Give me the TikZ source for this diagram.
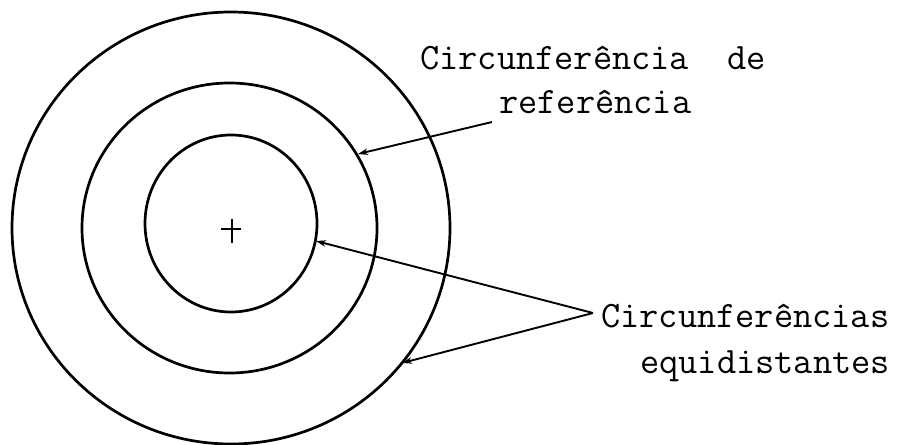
\documentclass[tikz,border=0pt]{standalone}
\usepackage{fontspec}
\usetikzlibrary{arrows.meta}
\begin{document}
\begin{tikzpicture}[x=1pt,y=-1pt,
  ring/.style={line width=2.7pt},
  lead/.style={line width=1.9pt,-{Stealth[length=10pt,width=6.5pt]}},
  lbl/.style={anchor=base west,inner sep=0pt,font=\fontsize{37.3}{40}\selectfont\ttfamily}]
\useasboundingbox (0,0) rectangle (912,444);
% circles
\draw[ring] (231,228) ellipse [x radius=219pt, y radius=216pt];
\draw[ring] (229.5,228) ellipse [x radius=147.5pt, y radius=145pt];
\draw[ring] (231,223.5) ellipse [x radius=86pt, y radius=88.5pt];
% centre mark
\draw[line width=2pt] (221,229) -- (241,229);
\draw[line width=2pt] (232,219) -- (232,243);
% labels
\node[lbl] (t1) at (420,70) {Circunferência\ \ de};
\node[lbl] (t2) at (499,113) {referência};
\node[lbl] (t3) at (601,327) {Circunferências};
\node[lbl] (t4) at (640,373) {equidistantes};
% leader points
\coordinate (r0) at (492,122);
\coordinate (rt) at (358,154);
\coordinate (v) at (593,313);
\coordinate (it) at (316,241);
\coordinate (ot) at (402,363);
\draw[lead] (r0) -- (rt);
\draw[lead] (v) -- (it);
\draw[lead] (v) -- (ot);
\end{tikzpicture}
\end{document}
